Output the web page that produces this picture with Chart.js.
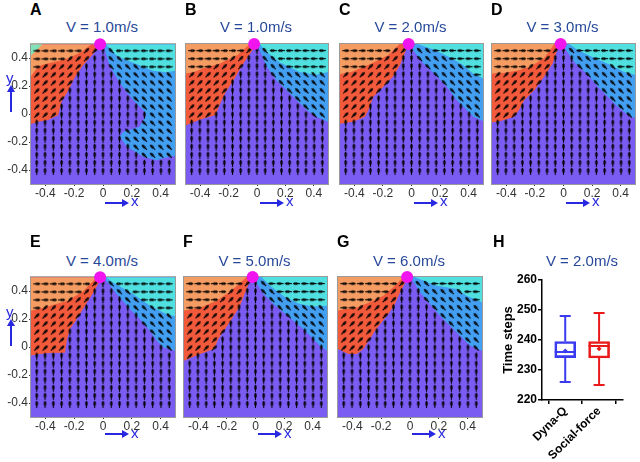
<!DOCTYPE html>
<html>
<head>
<meta charset="utf-8">
<script src="https://cdn.jsdelivr.net/npm/chart.js@4.4.1/dist/chart.umd.min.js"></script>
<style>
  body { margin: 0; width: 640px; height: 462px; position: relative; overflow: hidden; background: #fff;
         font-family: 'Liberation Sans', Arial, sans-serif; }
  canvas { position: absolute; }
  .letter { position: absolute; font-weight: bold; font-size: 16px; line-height: 16px; color: #000; }
  .title { position: absolute; font-size: 15px; line-height: 15px; color: #27489a; white-space: nowrap; transform: translateX(-50%); }
  .axname { position: absolute; font-size: 15px; line-height: 15px; color: #2828e0; }
  .harrow { position: absolute; height: 2px; background: #2828e0; }
  .harrow:after { content: ''; position: absolute; right: -3px; top: -3px; border-left: 7px solid #2828e0;
                  border-top: 4px solid transparent; border-bottom: 4px solid transparent; }
  .varrow { position: absolute; width: 2px; background: #2828e0; }
  .varrow:after { content: ''; position: absolute; top: -3px; left: -3px; border-bottom: 7px solid #2828e0;
                  border-left: 4px solid transparent; border-right: 4px solid transparent; }
</style>
</head>
<body>
<script>
// ---- data ----
const tickVals = [-0.4, -0.2, 0, 0.2, 0.4];
const gridX = [-0.46, -0.4025, -0.345, -0.2875, -0.23, -0.1725, -0.115, -0.0575, 0, 0.0575, 0.115, 0.1725, 0.23, 0.2875, 0.345, 0.4025, 0.46];
const gridY = [0.4525, 0.395, 0.3375, 0.28, 0.2225, 0.165, 0.1075, 0.05, -0.0075, -0.065, -0.1225, -0.18, -0.2375, -0.295, -0.3525, -0.41];
const exitPoint = [-0.02, 0.5];

// region boundaries: red/purple, orange/red, blue/purple, cyan/blue
const redEdgeA = [[-0.02,0.5],[-0.057,0.445],[-0.138,0.35],[-0.195,0.266],[-0.24,0.17],[-0.288,0.088],[-0.30,0.04],[-0.31,-0.007],[-0.38,-0.043],[-0.45,-0.055],[-0.5,-0.07]];
const orangeEdgeA = [[-0.08,0.5],[-0.15,0.445],[-0.24,0.40],[-0.33,0.374],[-0.41,0.357],[-0.45,0.34],[-0.48,0.30],[-0.5,0.27]];
const blueEdgeA = [[0.0,0.5],[0.048,0.34],[0.117,0.22],[0.209,0.10],[0.278,0.03],[0.30,-0.007],[0.255,-0.09],[0.14,-0.126],[0.117,-0.16],[0.163,-0.23],[0.278,-0.305],[0.37,-0.33],[0.46,-0.305],[0.5,-0.3]];
const cyanEdgeA = [[0.02,0.5],[0.094,0.42],[0.163,0.386],[0.255,0.35],[0.347,0.31],[0.44,0.30],[0.5,0.31]];
const mintPatchA = [[-0.5,0.5],[-0.42,0.5],[-0.47,0.45],[-0.5,0.42]];

const redEdgeB = [[-0.002,0.5],[-0.096,0.36],[-0.166,0.24],[-0.224,0.15],[-0.27,0.05],[-0.29,-0.007],[-0.40,-0.04],[-0.5,-0.08]];
const orangeEdgeB = [[-0.05,0.5],[-0.14,0.42],[-0.26,0.36],[-0.375,0.326],[-0.445,0.30],[-0.5,0.29]];
const blueEdgeB = [[0.0,0.5],[0.068,0.34],[0.138,0.24],[0.208,0.17],[0.278,0.10],[0.348,0.03],[0.417,-0.02],[0.5,-0.055]];
const cyanEdgeB = [[0.02,0.5],[0.06,0.45],[0.16,0.37],[0.30,0.30],[0.417,0.28],[0.5,0.30]];

const redEdgeC = [[-0.022,0.5],[-0.08,0.35],[-0.127,0.27],[-0.197,0.195],[-0.267,0.124],[-0.30,0.03],[-0.325,-0.02],[-0.407,-0.055],[-0.5,-0.07]];
const orangeEdgeC = [[-0.083,0.5],[-0.164,0.42],[-0.28,0.36],[-0.42,0.30],[-0.5,0.285]];
const blueEdgeC = [[-0.01,0.5],[0.001,0.47],[0.083,0.36],[0.176,0.27],[0.246,0.195],[0.316,0.10],[0.386,0.03],[0.432,-0.02],[0.5,-0.05]];
const cyanEdgeC = [[0.045,0.5],[0.162,0.457],[0.278,0.40],[0.36,0.35],[0.43,0.29],[0.5,0.255]];

const redEdgeD = [[-0.029,0.5],[-0.076,0.36],[-0.134,0.27],[-0.204,0.17],[-0.274,0.10],[-0.31,0.03],[-0.344,-0.02],[-0.44,-0.05],[-0.5,-0.06]];
const orangeEdgeD = [[-0.064,0.5],[-0.134,0.40],[-0.23,0.34],[-0.32,0.31],[-0.41,0.295],[-0.5,0.29]];
const blueEdgeD = [[-0.01,0.5],[0.075,0.37],[0.17,0.28],[0.24,0.195],[0.31,0.124],[0.38,0.05],[0.45,-0.007],[0.5,-0.03]];
const cyanEdgeD = [[0.04,0.5],[0.10,0.457],[0.216,0.40],[0.33,0.35],[0.425,0.30],[0.5,0.28]];

const redEdgeE = [[-0.009,0.5],[-0.067,0.39],[-0.125,0.295],[-0.183,0.20],[-0.23,0.128],[-0.25,0.057],[-0.264,-0.04],[-0.368,-0.043],[-0.437,-0.05],[-0.5,-0.06]];
const orangeEdgeE = [[-0.044,0.5],[-0.137,0.40],[-0.25,0.33],[-0.368,0.295],[-0.46,0.27],[-0.5,0.26]];
const blueEdgeE = [[0.0,0.5],[0.014,0.486],[0.095,0.38],[0.1875,0.27],[0.257,0.20],[0.326,0.116],[0.373,0.045],[0.42,-0.002],[0.5,-0.027]];
const cyanEdgeE = [[0.02,0.5],[0.07,0.46],[0.21,0.38],[0.326,0.295],[0.44,0.236],[0.5,0.22]];

const redEdgeF = [[-0.027,0.5],[-0.073,0.39],[-0.108,0.295],[-0.166,0.20],[-0.213,0.128],[-0.26,0.057],[-0.29,-0.014],[-0.388,-0.05],[-0.5,-0.098]];
const orangeEdgeF = [[-0.062,0.5],[-0.155,0.414],[-0.27,0.33],[-0.388,0.28],[-0.458,0.266],[-0.5,0.26]];
const blueEdgeF = [[-0.01,0.5],[-0.003,0.474],[0.055,0.38],[0.125,0.307],[0.194,0.248],[0.264,0.188],[0.334,0.128],[0.404,0.057],[0.45,0.009],[0.5,-0.027]];
const cyanEdgeF = [[0.04,0.5],[0.10,0.44],[0.20,0.36],[0.30,0.31],[0.40,0.29],[0.5,0.295]];

const redEdgeG = [[-0.012,0.5],[-0.07,0.39],[-0.104,0.307],[-0.15,0.236],[-0.197,0.176],[-0.243,0.116],[-0.278,0.057],[-0.324,-0.014],[-0.37,-0.05],[-0.428,-0.05],[-0.5,-0.014]];
const orangeEdgeG = [[-0.046,0.5],[-0.104,0.438],[-0.185,0.366],[-0.278,0.32],[-0.37,0.283],[-0.45,0.27],[-0.5,0.26]];
const blueEdgeG = [[0.0,0.5],[0.012,0.486],[0.07,0.39],[0.139,0.307],[0.208,0.224],[0.278,0.152],[0.347,0.08],[0.417,0.009],[0.5,-0.027]];
const cyanEdgeG = [[0.03,0.5],[0.185,0.438],[0.324,0.414],[0.394,0.366],[0.5,0.32]];

// box plot (panel H)
const boxCats = ['Dyna-Q', 'Social-force'];
const boxMin  = [226, 225];
const boxQ1   = [234.1, 234.0];
const boxMed  = [236.0, 238.0];
const boxQ3   = [239.5, 239.5];
const boxMax  = [248, 249];
const boxMean = [236.3, 237.1];
const boxTicks = [220, 230, 240, 250, 260];

const colors = { purple: '#7b5cf2', red: '#f35a3b', orange: '#f59c63', blue: '#429ff2', cyan: '#50e0e0', mint: '#80e2b8' };
const boxColors = ['#3a3af0', '#e81a1a'];
const FONT = "'Liberation Sans', Arial, sans-serif";

const panels = [
  { name: 'A', speed: '1.0', L: 31,  T: 44,  W: 144, red: redEdgeA, orange: orangeEdgeA, blue: blueEdgeA, cyan: cyanEdgeA, mint: mintPatchA },
  { name: 'B', speed: '1.0', L: 186, T: 44,  W: 142, red: redEdgeB, orange: orangeEdgeB, blue: blueEdgeB, cyan: cyanEdgeB },
  { name: 'C', speed: '2.0', L: 340, T: 44,  W: 143, red: redEdgeC, orange: orangeEdgeC, blue: blueEdgeC, cyan: cyanEdgeC },
  { name: 'D', speed: '3.0', L: 492, T: 44,  W: 143, red: redEdgeD, orange: orangeEdgeD, blue: blueEdgeD, cyan: cyanEdgeD },
  { name: 'E', speed: '4.0', L: 31,  T: 277, W: 144, red: redEdgeE, orange: orangeEdgeE, blue: blueEdgeE, cyan: cyanEdgeE },
  { name: 'F', speed: '5.0', L: 184, T: 277, W: 143, red: redEdgeF, orange: orangeEdgeF, blue: blueEdgeF, cyan: cyanEdgeF },
  { name: 'G', speed: '6.0', L: 338, T: 277, W: 144, red: redEdgeG, orange: orangeEdgeG, blue: blueEdgeG, cyan: cyanEdgeG },
];
const PH = 140;

// ---- helpers ----
function inside(pt, poly) {
  let c = false;
  for (let i = 0, j = poly.length - 1; i < poly.length; j = i++) {
    const [xi, yi] = poly[i], [xj, yj] = poly[j];
    if ((yi > pt[1]) !== (yj > pt[1]) && pt[0] < (xj - xi) * (pt[1] - yi) / (yj - yi) + xi) c = !c;
  }
  return c;
}

// small arrow glyph pointing right, rotated per point by Chart.js
function makeArrow() {
  const c = document.createElement('canvas');
  c.width = 13; c.height = 13;
  const g = c.getContext('2d');
  g.strokeStyle = '#000'; g.fillStyle = '#000'; g.lineWidth = 1.1;
  g.beginPath(); g.moveTo(3, 6.5); g.lineTo(9.3, 6.5); g.stroke();
  g.beginPath(); g.moveTo(10.4, 6.5); g.lineTo(7.6, 4.8); g.lineTo(7.6, 8.2); g.closePath(); g.fill();
  g.beginPath(); g.arc(6.5, 6.5, 1.3, 0, Math.PI * 2); g.fill();
  return c;
}
const arrowImg = makeArrow();

function addDiv(cls, css, text) {
  const d = document.createElement('div');
  d.className = cls;
  Object.assign(d.style, css);
  if (text) d.textContent = text;
  document.body.appendChild(d);
  return d;
}

const frameBg = {
  id: 'frameBg',
  beforeDatasetsDraw(chart) {
    const { ctx, chartArea: a } = chart;
    ctx.save();
    ctx.fillStyle = colors.purple;
    ctx.fillRect(a.left, a.top, a.right - a.left, a.bottom - a.top);
    ctx.strokeStyle = '#9a9a9a';
    ctx.lineWidth = 1;
    ctx.strokeRect(a.left - 0.5, a.top - 0.5, a.right - a.left + 1, a.bottom - a.top + 1);
    ctx.restore();
  }
};

const xy = p => ({ x: p[0], y: p[1] });

// ---- vector field panels ----
panels.forEach((p, idx) => {
  const firstCol = p.L < 100;
  const cv = document.createElement('canvas');
  cv.width = p.W + 36; cv.height = PH + 26;
  cv.style.left = (p.L - 30) + 'px';
  cv.style.top = (p.T - 8) + 'px';
  document.body.appendChild(cv);

  const redPoly = [...p.red, [-0.5, 0.5]];
  const orangePoly = [...p.orange, [-0.5, 0.5]];
  const bluePoly = [...p.blue, [0.5, 0.5]];
  const cyanPoly = [...p.cyan, [0.5, 0.5]];

  const arrows = [];
  gridY.forEach(gy => gridX.forEach(gx => {
    const pt = [gx, gy];
    let a = -90;
    if (inside(pt, cyanPoly)) a = 180;
    else if (inside(pt, bluePoly)) a = -135;
    else if (inside(pt, orangePoly)) a = 0;
    else if (inside(pt, redPoly)) a = -45;
    arrows.push({ x: gx, y: gy, a });
  }));

  const regions = [
    { poly: redPoly, color: colors.red },
    { poly: orangePoly, color: colors.orange },
    { poly: bluePoly, color: colors.blue },
    { poly: cyanPoly, color: colors.cyan },
  ];
  if (p.mint) regions.push({ poly: p.mint, color: colors.mint });

  const regionSets = regions.map((r, k) => ({
    type: 'line',
    data: r.poly.map(xy),
    showLine: true,
    fill: 'shape',
    backgroundColor: r.color,
    borderColor: 'rgba(0,0,0,0)',
    borderWidth: 0,
    pointRadius: 0,
    tension: 0,
    order: 20 - k
  }));

  const axisCommon = {
    type: 'linear', min: -0.5, max: 0.5,
    afterBuildTicks: s => { s.ticks = tickVals.map(v => ({ value: v })); },
    ticks: { font: { family: FONT, size: 12 }, color: '#333', callback: v => String(v), autoSkip: false },
    grid: { display: true, drawOnChartArea: false, drawTicks: true, tickLength: 2, color: '#333' },
    border: { display: false }
  };

  new Chart(cv, {
    type: 'scatter',
    data: {
      datasets: [
        { data: [xy(exitPoint)], pointRadius: 6, backgroundColor: '#f014ee', borderWidth: 0, clip: false, order: 0 },
        { data: arrows, pointStyle: arrowImg, rotation: c => c.raw.a, pointRadius: 5, order: 1 },
        ...regionSets
      ]
    },
    options: {
      responsive: false, animation: false, events: [],
      layout: { padding: { left: 0, top: 8, right: 6, bottom: 0 } },
      plugins: { legend: { display: false }, tooltip: { enabled: false } },
      scales: {
        x: { ...axisCommon, ticks: { ...axisCommon.ticks, padding: 0, maxRotation: 0 }, afterFit: s => { s.height = 18; } },
        y: { ...axisCommon,
             ticks: { ...axisCommon.ticks, padding: 1, display: firstCol },
             grid: { ...axisCommon.grid, display: firstCol },
             afterFit: s => { s.width = 30; } }
      }
    },
    plugins: [frameBg]
  });

  const row2 = p.T > 200;
  addDiv('letter', { left: (p.L - 1) + 'px', top: (row2 ? 234 : 1.5) + 'px' }, p.name);
  addDiv('title', { left: (p.L + p.W / 2 - 1) + 'px', top: (row2 ? 252.5 : 19) + 'px' }, 'V = ' + p.speed + 'm/s');
  const ay = row2 ? 433 : 202;
  addDiv('harrow', { left: (p.L + 74) + 'px', top: ay + 'px', width: '21px' });
  addDiv('axname', { left: (p.L + 100) + 'px', top: (row2 ? 425 : 193) + 'px' }, 'x');
  if (firstCol) {
    addDiv('axname', { left: '6px', top: (row2 ? 304 : 70) + 'px' }, 'y');
    addDiv('varrow', { left: '10px', top: (row2 ? 322 : 88) + 'px', height: '24px' });
  }
});

// ---- panel H: box plot ----
const whiskers = {
  id: 'whiskers',
  afterDatasetsDraw(chart) {
    const { ctx, scales: { x, y } } = chart;
    ctx.save();
    ctx.lineWidth = 2;
    boxCats.forEach((c, i) => {
      const px = x.getPixelForValue(i);
      ctx.strokeStyle = boxColors[i];
      ctx.beginPath();
      ctx.moveTo(px, y.getPixelForValue(boxQ3[i])); ctx.lineTo(px, y.getPixelForValue(boxMax[i]));
      ctx.moveTo(px, y.getPixelForValue(boxQ1[i])); ctx.lineTo(px, y.getPixelForValue(boxMin[i]));
      ctx.moveTo(px - 5.5, y.getPixelForValue(boxMax[i])); ctx.lineTo(px + 5.5, y.getPixelForValue(boxMax[i]));
      ctx.moveTo(px - 5.5, y.getPixelForValue(boxMin[i])); ctx.lineTo(px + 5.5, y.getPixelForValue(boxMin[i]));
      ctx.moveTo(px - 10.5, y.getPixelForValue(boxMed[i])); ctx.lineTo(px + 10.5, y.getPixelForValue(boxMed[i]));
      ctx.stroke();
    });
    ctx.restore();
  }
};

const cvH = document.createElement('canvas');
cvH.width = 170; cvH.height = 192;
cvH.style.left = '470px'; cvH.style.top = '270px';
document.body.appendChild(cvH);

new Chart(cvH, {
  type: 'bar',
  data: {
    datasets: [
      { type: 'scatter', data: boxCats.map((c, i) => ({ x: i, y: boxMean[i] })), pointStyle: 'rectRot', pointRadius: 2.5,
        backgroundColor: boxColors, borderColor: boxColors, borderWidth: 0, order: 0 },
      { type: 'bar', data: boxCats.map((c, i) => ({ x: i, y: [boxQ1[i], boxQ3[i]] })), backgroundColor: 'rgba(0,0,0,0)',
        borderColor: boxColors, borderWidth: 2, borderSkipped: false, barThickness: 21, grouped: false, order: 1 }
    ]
  },
  options: {
    responsive: false, animation: false, events: [],
    layout: { padding: { left: 30, top: 10, right: 17, bottom: 0 } },
    plugins: { legend: { display: false }, tooltip: { enabled: false } },
    scales: {
      x: {
        type: 'linear', min: -0.686, max: 1.706, offset: false,
        afterBuildTicks: s => { s.ticks = boxCats.map((c, i) => ({ value: i })); },
        afterFit: s => { s.height = 62; },
        ticks: { font: { family: FONT, size: 12, weight: 'bold' }, color: '#000', minRotation: 45, maxRotation: 45,
                 autoSkip: false, padding: 0, callback: v => boxCats[v] },
        grid: { display: true, drawOnChartArea: false, drawTicks: true, tickLength: 4, color: '#000', lineWidth: 1.5 },
        border: { display: true, color: '#000', width: 1.5 }
      },
      y: {
        min: 220, max: 260,
        afterBuildTicks: s => { s.ticks = boxTicks.map(v => ({ value: v })); },
        afterFit: s => { s.width = 42; },
        ticks: { font: { family: FONT, size: 12, weight: 'bold' }, color: '#000', padding: 1 },
        grid: { display: true, drawOnChartArea: false, drawTicks: true, tickLength: 4, color: '#000', lineWidth: 1.5 },
        border: { display: true, color: '#000', width: 1.5 },
        title: { display: true, text: 'Time steps', font: { family: FONT, size: 13, weight: 'bold' }, color: '#000',
                 padding: { top: 1, bottom: 0 } }
      }
    }
  },
  plugins: [whiskers]
});

addDiv('letter', { left: '493px', top: '234px' }, 'H');
addDiv('title', { left: '582px', top: '253px' }, 'V = 2.0m/s');
</script>
</body>
</html>
